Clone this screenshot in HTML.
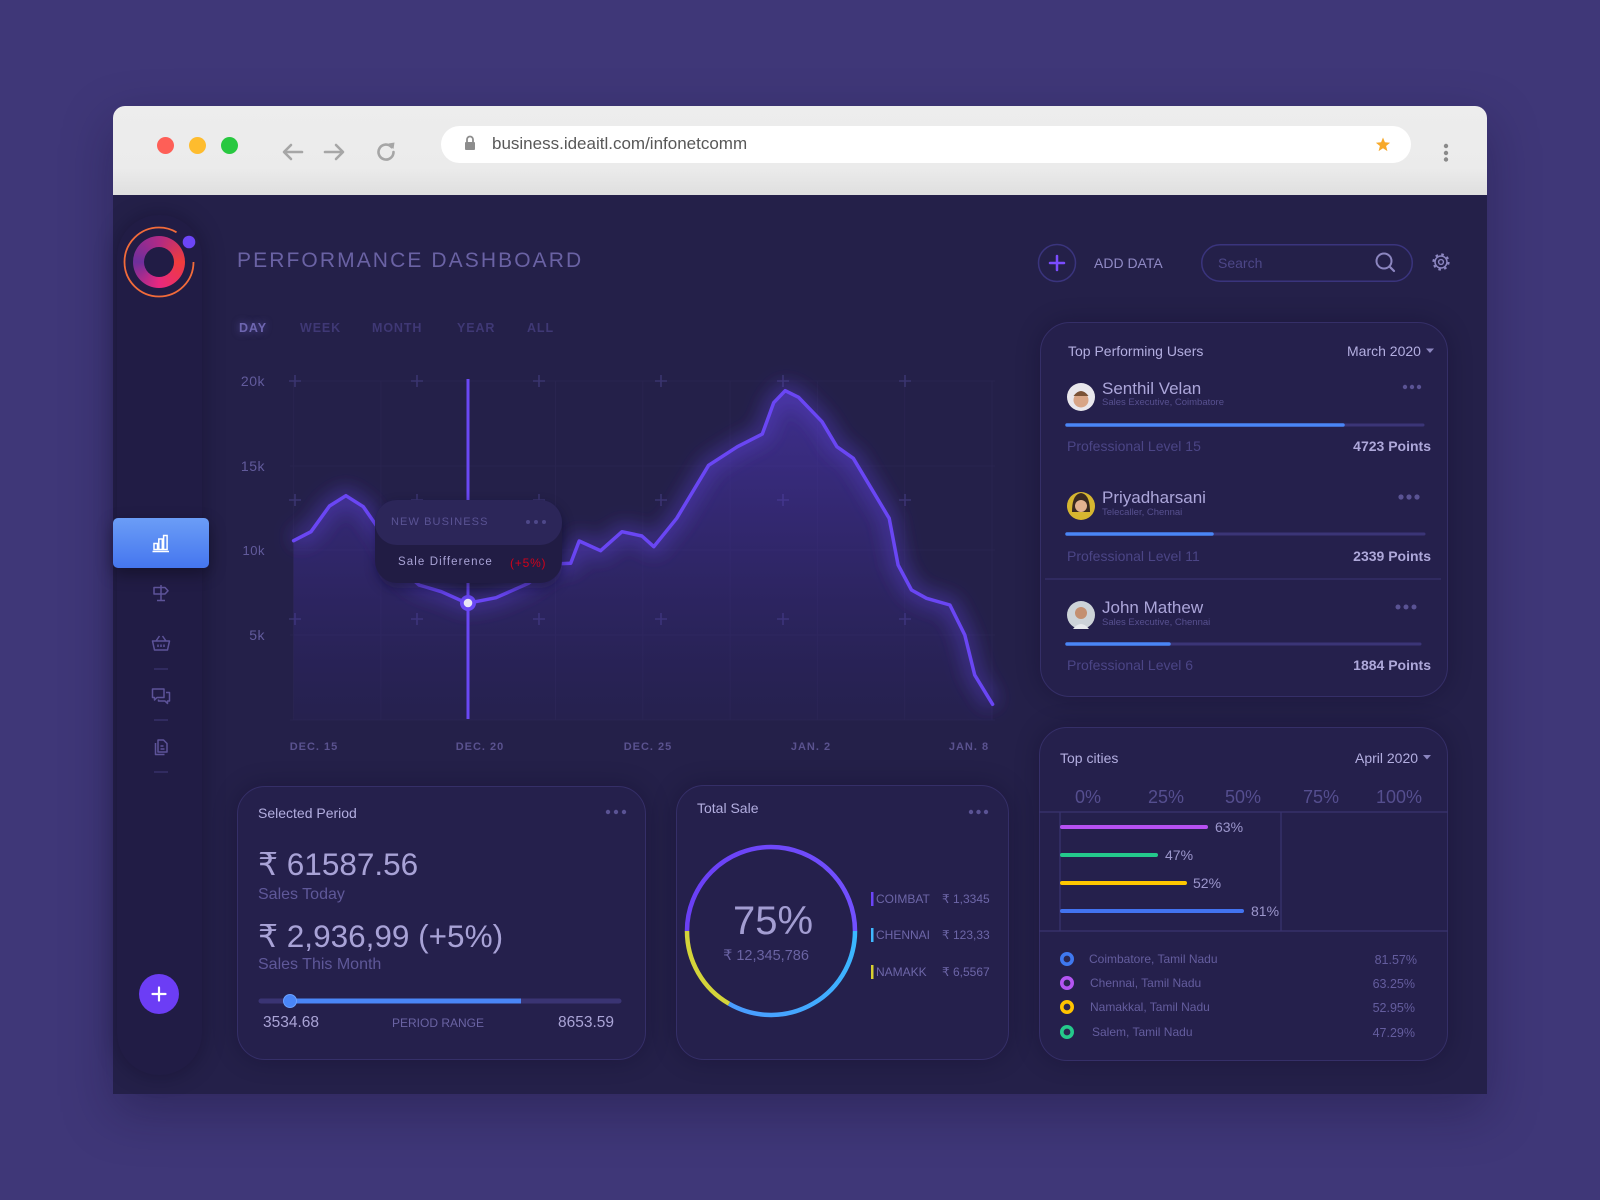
<!DOCTYPE html>
<html><head><meta charset="utf-8">
<style>
html,body{margin:0;padding:0;}
body{width:1600px;height:1200px;background:#3f3778;position:relative;overflow:hidden;font-family:"Liberation Sans","DejaVu Sans",sans-serif;}
.a{position:absolute;}
.t{position:absolute;white-space:nowrap;line-height:1;font-family:"Liberation Sans","DejaVu Sans",sans-serif;}
.card{position:absolute;background:#25204c;border:1.5px solid #352f68;box-sizing:border-box;box-shadow:0 0 24px rgba(10,6,30,0.28);}
</style></head>
<body>
<!-- browser chrome -->
<div class="a" style="left:113px;top:106px;width:1374px;height:988px;border-radius:12px 12px 0 0;box-shadow:0 18px 50px rgba(20,14,50,0.35);"></div>
<div class="a" style="left:113px;top:106px;width:1374px;height:89px;border-radius:12px 12px 0 0;background:linear-gradient(#ededed 0%,#ebebeb 70%,#dfdfdf 100%);"></div>
<div class="a" style="left:113px;top:195px;width:1374px;height:899px;background:#242049;"></div>
<div class="a" style="left:441px;top:126px;width:970px;height:37px;border-radius:19px;background:#fff;"></div>
<div class="a" style="left:156.5px;top:136.5px;width:17.5px;height:17.5px;border-radius:50%;background:#fe5f57;"></div>
<div class="a" style="left:188.5px;top:136.5px;width:17.5px;height:17.5px;border-radius:50%;background:#febc2e;"></div>
<div class="a" style="left:220.5px;top:136.5px;width:17.5px;height:17.5px;border-radius:50%;background:#28c840;"></div>
<div class="t" style="left:492px;top:135px;font-size:17px;color:#585858;">business.ideaitl.com/infonetcomm</div>

<!-- sidebar -->
<div class="a" style="left:117px;top:215px;width:85px;height:860px;border-radius:42px;background:#211c45;box-shadow:0 0 22px rgba(8,5,25,0.35);"></div>
<div class="a" style="left:133px;top:236px;width:52px;height:52px;border-radius:50%;background:conic-gradient(from 0deg,#b02a86,#f03c3c 90deg,#e8287f 180deg,#6e2f9c 270deg,#b02a86 360deg);"></div>
<div class="a" style="left:144px;top:247px;width:30px;height:30px;border-radius:50%;background:#211c45;"></div>
<div class="a" style="left:113px;top:518px;width:96px;height:50px;border-radius:5px;background:linear-gradient(#6b9df6,#4576ef);box-shadow:0 6px 16px rgba(0,0,0,0.35);"></div>

<!-- cards -->
<div class="card" style="left:1040px;top:322px;width:408px;height:375px;border-radius:30px;"></div>
<div class="card" style="left:1039px;top:727px;width:409px;height:334px;border-radius:28px;"></div>
<div class="card" style="left:237px;top:786px;width:409px;height:274px;border-radius:28px;"></div>
<div class="card" style="left:676px;top:785px;width:333px;height:275px;border-radius:28px;"></div>

<svg class="a" style="left:0;top:0;" width="1600" height="1200" viewBox="0 0 1600 1200">
<defs>
<linearGradient id="area" x1="0" y1="390" x2="0" y2="720" gradientUnits="userSpaceOnUse">
<stop offset="0" stop-color="#5b3fd6" stop-opacity="0.5"/>
<stop offset="0.55" stop-color="#4a34b0" stop-opacity="0.28"/>
<stop offset="1" stop-color="#3a2c90" stop-opacity="0.08"/>
</linearGradient>
<filter id="blur" x="-20%" y="-20%" width="140%" height="140%"><feGaussianBlur stdDeviation="9"/></filter>
<filter id="sh" x="-30%" y="-30%" width="160%" height="160%"><feGaussianBlur stdDeviation="6"/></filter>
<linearGradient id="pur" x1="687" y1="0" x2="855" y2="0" gradientUnits="userSpaceOnUse"><stop offset="0" stop-color="#6a3ff5"/><stop offset="1" stop-color="#7250ff"/></linearGradient>
<linearGradient id="blu" x1="855" y1="931" x2="729" y2="1004" gradientUnits="userSpaceOnUse"><stop offset="0" stop-color="#3ab8ff"/><stop offset="1" stop-color="#4a9cff"/></linearGradient>
</defs>
<!-- chrome icons -->
<g stroke="#a6a6a6" stroke-width="2.6" fill="none" stroke-linecap="round" stroke-linejoin="round">
<path d="M302 152 H285 M291 145 L284 152 L291 159"/>
<path d="M325 152 H342 M336 145 L343 152 L336 159"/>
<path d="M391.7 147.2 A7.5 7.5 0 1 0 393.5 152"/>
</g>
<polygon points="388.5,143.5 394.5,142.5 393.5,149" fill="#a6a6a6"/>
<rect x="465" y="142" width="10" height="8" rx="1" fill="#8d8d8d"/>
<path d="M467 142 V139.5 A3 3 0 0 1 473 139.5 V142" stroke="#8d8d8d" stroke-width="1.8" fill="none"/>
<polygon points="1383,137.5 1384.9,142.3 1390.1,142.7 1386.1,146 1387.4,151.1 1383,148.3 1378.6,151.1 1379.9,146 1375.9,142.7 1381.1,142.3" fill="#f7a92a"/>
<circle cx="1446" cy="146" r="2.2" fill="#8a8a8a"/><circle cx="1446" cy="153" r="2.2" fill="#8a8a8a"/><circle cx="1446" cy="159.5" r="2.2" fill="#8a8a8a"/>

<!-- logo -->
<circle cx="159" cy="262" r="34.5" fill="none" stroke="#f26b3a" stroke-width="1.8" stroke-dasharray="180.7 36.1"/>
<circle cx="189" cy="242" r="6.3" fill="#6d45f7"/>

<!-- nav icons -->
<g stroke="#ffffff" stroke-width="1.5" fill="none">
<rect x="154" y="543.5" width="3.5" height="6"/><rect x="158.8" y="539" width="3.5" height="10.5"/><rect x="163.6" y="535.5" width="3.5" height="14"/>
<line x1="152.5" y1="551.5" x2="169" y2="551.5"/>
</g>
<g stroke="#5d5399" stroke-width="1.5" fill="none" stroke-linejoin="round">
<path d="M161 585 V600 M157 600.5 H165 M154 587.5 H165 L168 590.8 L165 594 H154 Z"/>
<path d="M156 641 L159.5 636 M166 641 L162.5 636 M152.5 641 H169.5 L167.5 650 H154.5 Z M158 644.5 V647 M161 644.5 V647 M164 644.5 V647"/>
<path d="M152.5 689 H164 V697.5 H157 L154.5 700 V697.5 H152.5 Z M166 692.5 H169.5 V701 H167.5 V703.5 L165 701 H158.5 V699.5"/>
<path d="M158 740 H163.5 L167 743.5 V752 H158 Z M155.5 743 V754.5 H164.5 M160.5 746 H163.5 M160.5 749 H164.5"/>
</g>
<g stroke="#3a3470" stroke-width="1.3">
<line x1="154" y1="669" x2="168" y2="669"/><line x1="154" y1="720" x2="168" y2="720"/><line x1="154" y1="772" x2="168" y2="772"/>
</g>
<circle cx="159" cy="994" r="20" fill="#6c3df5"/>
<path d="M152.5 994 H165.5 M159 987.5 V1000.5" stroke="#fff" stroke-width="2.2" stroke-linecap="round"/>

<!-- header icons -->
<circle cx="1057" cy="263" r="18.5" fill="none" stroke="#3a347d" stroke-width="1.5"/>
<path d="M1050 263 H1064 M1057 256 V270" stroke="#7b4cff" stroke-width="2.5" stroke-linecap="round"/>
<rect x="1201.75" y="244.75" width="210.5" height="36.5" rx="18.25" fill="none" stroke="#3a347d" stroke-width="1.5"/>
<circle cx="1384" cy="261" r="7.5" fill="none" stroke="#8c86c0" stroke-width="2"/>
<line x1="1389.5" y1="266.5" x2="1394" y2="271" stroke="#8c86c0" stroke-width="2.2" stroke-linecap="round"/>
<circle cx="1441" cy="262" r="6" fill="none" stroke="#8c86c0" stroke-width="1.5"/>
<circle cx="1441" cy="262" r="7.6" fill="none" stroke="#8c86c0" stroke-width="2" stroke-dasharray="2.6 3.37"/>
<circle cx="1441" cy="262" r="2.4" fill="none" stroke="#8c86c0" stroke-width="1.4"/>

<!-- chart grid -->
<g stroke="#29244f" stroke-width="1">
<line x1="290" y1="381" x2="995" y2="381"/><line x1="290" y1="466" x2="995" y2="466"/><line x1="290" y1="550" x2="995" y2="550"/><line x1="290" y1="635" x2="995" y2="635"/><line x1="290" y1="720" x2="995" y2="720"/>
<line x1="293.6" y1="381" x2="293.6" y2="720"/><line x1="380.9" y1="381" x2="380.9" y2="720"/><line x1="468.2" y1="381" x2="468.2" y2="720"/><line x1="555.5" y1="381" x2="555.5" y2="720"/><line x1="642.8" y1="381" x2="642.8" y2="720"/><line x1="730.1" y1="381" x2="730.1" y2="720"/><line x1="817.4" y1="381" x2="817.4" y2="720"/><line x1="904.7" y1="381" x2="904.7" y2="720"/><line x1="992" y1="381" x2="992" y2="720"/>
</g>
<g stroke="#3a346f" stroke-width="1.6">
<path d="M289 381h12M295 375v12 M411 381h12M417 375v12 M533 381h12M539 375v12 M655 381h12M661 375v12 M777 381h12M783 375v12 M899 381h12M905 375v12"/>
<path d="M289 500h12M295 494v12 M411 500h12M417 494v12 M533 500h12M539 494v12 M655 500h12M661 494v12 M777 500h12M783 494v12 M899 500h12M905 494v12"/>
<path d="M289 619h12M295 613v12 M411 619h12M417 613v12 M533 619h12M539 613v12 M655 619h12M661 613v12 M777 619h12M783 613v12 M899 619h12M905 613v12"/>
</g>
<!-- chart series -->
<polygon fill="url(#area)" points="293.6,540.7 311,531.7 329.5,506 345.9,495.7 363.3,506.7 385,538 402,570 419,585 441.4,591.7 467.3,603.3 496,597.7 528.5,583.3 553,564 570.7,563.3 579.2,541 600.6,550.7 622,531.7 641.9,536 653.8,546.7 676.7,518.3 708.6,465.3 737.4,446.7 762.3,434 773.7,402.7 785.2,390.7 798.6,397.3 822,421.7 836.9,446.7 853.3,458.3 889.2,518.3 898.1,565 911.5,590 926.5,598.3 949.9,605 964.8,635 974.7,675 992.6,704.3 992.6,720 293.6,720"/>
<polyline filter="url(#blur)" fill="none" stroke="#5a3fd0" stroke-opacity="0.45" stroke-width="16" stroke-linejoin="round" points="293.6,540.7 311,531.7 329.5,506 345.9,495.7 363.3,506.7 385,538 402,570 419,585 441.4,591.7 467.3,603.3 496,597.7 528.5,583.3 553,564 570.7,563.3 579.2,541 600.6,550.7 622,531.7 641.9,536 653.8,546.7 676.7,518.3 708.6,465.3 737.4,446.7 762.3,434 773.7,402.7 785.2,390.7 798.6,397.3 822,421.7 836.9,446.7 853.3,458.3 889.2,518.3 898.1,565 911.5,590 926.5,598.3 949.9,605 964.8,635 974.7,675 992.6,704.3"/>
<line x1="468" y1="379" x2="468" y2="719" stroke="#6a48f5" stroke-width="3"/>
<polyline fill="none" stroke="#6a46f4" stroke-width="3.5" stroke-linejoin="round" stroke-linecap="round" points="293.6,540.7 311,531.7 329.5,506 345.9,495.7 363.3,506.7 385,538 402,570 419,585 441.4,591.7 467.3,603.3 496,597.7 528.5,583.3 553,564 570.7,563.3 579.2,541 600.6,550.7 622,531.7 641.9,536 653.8,546.7 676.7,518.3 708.6,465.3 737.4,446.7 762.3,434 773.7,402.7 785.2,390.7 798.6,397.3 822,421.7 836.9,446.7 853.3,458.3 889.2,518.3 898.1,565 911.5,590 926.5,598.3 949.9,605 964.8,635 974.7,675 992.6,704.3"/>
<circle cx="468" cy="603" r="8" fill="#6a48f5"/>
<circle cx="468" cy="603" r="4.3" fill="#e8e6f5"/>
<!-- tooltip -->
<rect x="377" y="505" width="185" height="83" rx="22" fill="#100c28" opacity="0.5" filter="url(#sh)"/>
<rect x="375" y="500" width="187" height="83" rx="22" fill="#211c44"/>
<rect x="375" y="500" width="187" height="45" rx="22" fill="#2c2659"/>
<circle cx="528" cy="522" r="2" fill="#4e4889"/><circle cx="536" cy="522" r="2" fill="#4e4889"/><circle cx="544" cy="522" r="2" fill="#4e4889"/>

<!-- user card -->
<circle cx="1081" cy="397" r="14" fill="#e9e7ec"/><circle cx="1081" cy="400" r="7.5" fill="#d8a586"/><path d="M1073.5 396 Q1081 386 1088.5 396 Z" fill="#7a5236"/>
<circle cx="1081" cy="506" r="14" fill="#d6b630"/><path d="M1072 512 Q1072 494 1081 493 Q1090 494 1090 512 Z" fill="#3a2a20"/><circle cx="1081" cy="506" r="6" fill="#e2b290"/>
<circle cx="1081" cy="615" r="14" fill="#cdd3d8"/><circle cx="1081" cy="613" r="6" fill="#c48f70"/><path d="M1073 629 Q1081 619 1089 629 Z" fill="#e8eaed"/>
<circle cx="1405" cy="387" r="2.2" fill="#5a5394"/><circle cx="1412" cy="387" r="2.2" fill="#5a5394"/><circle cx="1419" cy="387" r="2.2" fill="#5a5394"/>
<circle cx="1401" cy="497" r="2.6" fill="#5a5394"/><circle cx="1409" cy="497" r="2.6" fill="#5a5394"/><circle cx="1417" cy="497" r="2.6" fill="#5a5394"/>
<circle cx="1398" cy="607" r="2.5" fill="#5a5394"/><circle cx="1406" cy="607" r="2.5" fill="#5a5394"/><circle cx="1414" cy="607" r="2.5" fill="#5a5394"/>
<g stroke-linecap="round">
<line x1="1067" y1="425" x2="1423" y2="425" stroke="#3b3577" stroke-width="3"/>
<line x1="1067" y1="425" x2="1343" y2="425" stroke="#4a86f7" stroke-width="3.5"/>
<line x1="1067" y1="534" x2="1424" y2="534" stroke="#3b3577" stroke-width="3"/>
<line x1="1067" y1="534" x2="1212" y2="534" stroke="#4a86f7" stroke-width="3.5"/>
<line x1="1067" y1="644" x2="1420" y2="644" stroke="#3b3577" stroke-width="3"/>
<line x1="1067" y1="644" x2="1169" y2="644" stroke="#4a86f7" stroke-width="3.5"/>
</g>
<line x1="1045" y1="579" x2="1441" y2="579" stroke="#37316c" stroke-width="1.2"/>
<polygon points="1426,348.5 1434,348.5 1430,353" fill="#8c86c0"/>

<!-- top cities -->
<polygon points="1423,755 1431,755 1427,759.5" fill="#8c86c0"/>
<g stroke="#3a3470" stroke-width="1.2">
<line x1="1039" y1="812" x2="1448" y2="812"/><line x1="1039" y1="931" x2="1448" y2="931"/>
<line x1="1060" y1="812" x2="1060" y2="931"/><line x1="1281" y1="812" x2="1281" y2="931"/>
</g>
<g stroke-width="4" stroke-linecap="round">
<line x1="1062" y1="827" x2="1206" y2="827" stroke="#b650f2"/>
<line x1="1062" y1="855" x2="1156" y2="855" stroke="#24c98c"/>
<line x1="1062" y1="883" x2="1185" y2="883" stroke="#ffc700"/>
<line x1="1062" y1="911" x2="1242" y2="911" stroke="#4273f0"/>
</g>
<g stroke-width="3.6" fill="#2a2550">
<circle cx="1067" cy="959" r="5.2" stroke="#3f78f0"/>
<circle cx="1067" cy="983" r="5.2" stroke="#b455f2"/>
<circle cx="1067" cy="1007" r="5.2" stroke="#ffc400"/>
<circle cx="1067" cy="1032" r="5.2" stroke="#25c98b"/>
</g>

<!-- selected period -->
<circle cx="608" cy="812" r="2.2" fill="#5a5394"/><circle cx="616" cy="812" r="2.2" fill="#5a5394"/><circle cx="624" cy="812" r="2.2" fill="#5a5394"/>
<line x1="261" y1="1001" x2="619" y2="1001" stroke="#3a3473" stroke-width="5" stroke-linecap="round"/>
<line x1="290" y1="1001" x2="521" y2="1001" stroke="#4a86f7" stroke-width="5"/>
<circle cx="290" cy="1001" r="6.5" fill="#4a86f7" stroke="#6aa0ff" stroke-width="1"/>

<!-- total sale -->
<circle cx="971" cy="812" r="2.2" fill="#5a5394"/><circle cx="978.5" cy="812" r="2.2" fill="#5a5394"/><circle cx="986" cy="812" r="2.2" fill="#5a5394"/>
<g fill="none" stroke-width="4.5">
<path d="M687 931 A84 84 0 0 1 855 931" stroke="url(#pur)"/>
<path d="M855 931 A84 84 0 0 1 729 1003.7" stroke="url(#blu)"/>
<path d="M729 1003.7 A84 84 0 0 1 687 931" stroke="#d4d43a"/>
</g>
<rect x="871" y="892" width="2.5" height="14" fill="#6b45f7"/>
<rect x="871" y="928" width="2.5" height="14" fill="#40b8ff"/>
<rect x="871" y="965" width="2.5" height="14" fill="#d8d030"/>
</svg>

<!-- header text -->
<div class="t" style="left:237px;top:249.5px;font-size:21px;letter-spacing:2.1px;color:#6a62a4;">PERFORMANCE DASHBOARD</div>
<div class="t" style="left:239px;top:322px;font-size:12.5px;font-weight:bold;letter-spacing:0.9px;color:#6e66b0;text-shadow:0 0 8px rgba(120,110,210,0.6);">DAY</div>
<div class="t" style="left:300px;top:322px;font-size:12.5px;font-weight:bold;letter-spacing:0.9px;color:#3f3875;">WEEK</div>
<div class="t" style="left:372px;top:322px;font-size:12.5px;font-weight:bold;letter-spacing:0.9px;color:#3f3875;">MONTH</div>
<div class="t" style="left:457px;top:322px;font-size:12.5px;font-weight:bold;letter-spacing:0.9px;color:#3f3875;">YEAR</div>
<div class="t" style="left:527px;top:322px;font-size:12.5px;font-weight:bold;letter-spacing:0.9px;color:#3f3875;">ALL</div>
<div class="t" style="left:1094px;top:256px;font-size:14px;color:#8f89c4;">ADD DATA</div>
<div class="t" style="left:1218px;top:256px;font-size:14px;color:#4d4788;">Search</div>

<!-- axis labels -->
<div class="t" style="left:205px;width:60px;text-align:right;top:374px;font-size:14px;color:#625b9c;letter-spacing:0.5px;">20k</div>
<div class="t" style="left:205px;width:60px;text-align:right;top:459px;font-size:14px;color:#625b9c;letter-spacing:0.5px;">15k</div>
<div class="t" style="left:205px;width:60px;text-align:right;top:543.5px;font-size:13px;color:#625b9c;letter-spacing:0.5px;">10k</div>
<div class="t" style="left:205px;width:60px;text-align:right;top:628px;font-size:14px;color:#625b9c;letter-spacing:0.5px;">5k</div>
<div class="t" style="left:264px;width:100px;text-align:center;top:741.5px;font-size:11px;font-weight:bold;letter-spacing:1px;color:#5a528f;">DEC. 15</div>
<div class="t" style="left:430px;width:100px;text-align:center;top:741.5px;font-size:11px;font-weight:bold;letter-spacing:1px;color:#5a528f;">DEC. 20</div>
<div class="t" style="left:598px;width:100px;text-align:center;top:741.5px;font-size:11px;font-weight:bold;letter-spacing:1px;color:#5a528f;">DEC. 25</div>
<div class="t" style="left:761px;width:100px;text-align:center;top:741.5px;font-size:11px;font-weight:bold;letter-spacing:1px;color:#5a528f;">JAN. 2</div>
<div class="t" style="left:919px;width:100px;text-align:center;top:741.5px;font-size:11px;font-weight:bold;letter-spacing:1px;color:#5a528f;">JAN. 8</div>

<!-- tooltip text -->
<div class="t" style="left:391px;top:516.5px;font-size:11px;letter-spacing:1.1px;color:#5a5394;">NEW BUSINESS</div>
<div class="t" style="left:398px;top:557px;font-size:11.5px;letter-spacing:1.1px;color:#a9a3d6;">Sale Difference</div>
<div class="t" style="left:510px;top:557px;font-size:12px;letter-spacing:0.8px;color:#d0021b;">(+5%)</div>

<!-- top performing users -->
<div class="t" style="left:1068px;top:344px;font-size:14px;color:#b3aee0;">Top Performing Users</div>
<div class="t" style="left:1347px;top:344px;font-size:14px;color:#b3aee0;">March 2020</div>
<div class="t" style="left:1102px;top:379.5px;font-size:17px;color:#aca6da;">Senthil Velan</div>
<div class="t" style="left:1102px;top:398px;font-size:9.5px;color:#57508f;">Sales Executive, Coimbatore</div>
<div class="t" style="left:1067px;top:439px;font-size:14px;color:#4b4586;">Professional Level 15</div>
<div class="t" style="right:169px;top:439px;font-size:14px;font-weight:bold;color:#aea8da;">4723 Points</div>
<div class="t" style="left:1102px;top:488.5px;font-size:17px;color:#aca6da;">Priyadharsani</div>
<div class="t" style="left:1102px;top:508px;font-size:9.5px;color:#57508f;">Telecaller, Chennai</div>
<div class="t" style="left:1067px;top:549px;font-size:14px;color:#4b4586;">Professional Level 11</div>
<div class="t" style="right:169px;top:549px;font-size:14px;font-weight:bold;color:#aea8da;">2339 Points</div>
<div class="t" style="left:1102px;top:598.5px;font-size:17px;color:#aca6da;">John Mathew</div>
<div class="t" style="left:1102px;top:618px;font-size:9.5px;color:#57508f;">Sales Executive, Chennai</div>
<div class="t" style="left:1067px;top:658px;font-size:14px;color:#4b4586;">Professional Level 6</div>
<div class="t" style="right:169px;top:658px;font-size:14px;font-weight:bold;color:#aea8da;">1884 Points</div>

<!-- top cities -->
<div class="t" style="left:1060px;top:751px;font-size:14px;color:#b3aee0;">Top cities</div>
<div class="t" style="left:1355px;top:751px;font-size:14px;color:#b3aee0;">April 2020</div>
<div class="t" style="left:1048px;width:80px;text-align:center;top:788px;font-size:18px;color:#554e8f;">0%</div>
<div class="t" style="left:1126px;width:80px;text-align:center;top:788px;font-size:18px;color:#554e8f;">25%</div>
<div class="t" style="left:1203px;width:80px;text-align:center;top:788px;font-size:18px;color:#554e8f;">50%</div>
<div class="t" style="left:1281px;width:80px;text-align:center;top:788px;font-size:18px;color:#554e8f;">75%</div>
<div class="t" style="left:1359px;width:80px;text-align:center;top:788px;font-size:18px;color:#554e8f;">100%</div>
<div class="t" style="left:1215px;top:820px;font-size:14px;color:#9c96cc;">63%</div>
<div class="t" style="left:1165px;top:848px;font-size:14px;color:#9c96cc;">47%</div>
<div class="t" style="left:1193px;top:876px;font-size:14px;color:#9c96cc;">52%</div>
<div class="t" style="left:1251px;top:904px;font-size:14px;color:#9c96cc;">81%</div>
<div class="t" style="left:1089px;top:953px;font-size:12px;color:#645d9e;">Coimbatore, Tamil Nadu</div>
<div class="t" style="left:1090px;top:977px;font-size:12px;color:#645d9e;">Chennai, Tamil Nadu</div>
<div class="t" style="left:1090px;top:1001px;font-size:12px;color:#645d9e;">Namakkal, Tamil Nadu</div>
<div class="t" style="left:1092px;top:1026px;font-size:12px;color:#645d9e;">Salem, Tamil Nadu</div>
<div class="t" style="right:183px;top:954px;font-size:12.5px;color:#645d9e;">81.57%</div>
<div class="t" style="right:185px;top:978px;font-size:12.5px;color:#645d9e;">63.25%</div>
<div class="t" style="right:185px;top:1002px;font-size:12.5px;color:#645d9e;">52.95%</div>
<div class="t" style="right:185px;top:1027px;font-size:12.5px;color:#645d9e;">47.29%</div>

<!-- selected period -->
<div class="t" style="left:258px;top:806px;font-size:14px;color:#b3aee0;">Selected Period</div>
<div class="t" style="left:258px;top:849px;font-size:31.5px;color:#a8a2d6;">₹ 61587.56</div>
<div class="t" style="left:258px;top:887px;font-size:16px;color:#5f5899;">Sales Today</div>
<div class="t" style="left:258px;top:921px;font-size:31.5px;color:#a8a2d6;">₹ 2,936,99 (+5%)</div>
<div class="t" style="left:258px;top:957px;font-size:16px;color:#5f5899;">Sales This Month</div>
<div class="t" style="left:263px;top:1015px;font-size:15.5px;color:#aaa4d6;">3534.68</div>
<div class="t" style="left:392px;top:1017px;font-size:12px;color:#6a63a3;">PERIOD RANGE</div>
<div class="t" style="right:986px;top:1015px;font-size:15.5px;color:#aaa4d6;">8653.59</div>

<!-- total sale -->
<div class="t" style="left:697px;top:801px;font-size:14px;color:#b3aee0;">Total Sale</div>
<div class="t" style="left:673px;width:200px;text-align:center;top:901px;font-size:40px;color:#a39dd2;">75%</div>
<div class="t" style="left:666px;width:200px;text-align:center;top:949px;font-size:14.5px;color:#6a63a3;">₹ 12,345,786</div>
<div class="t" style="left:876px;top:893px;font-size:12px;color:#6d66a8;">COIMBAT</div>
<div class="t" style="left:876px;top:929px;font-size:12px;color:#6d66a8;">CHENNAI</div>
<div class="t" style="left:876px;top:966px;font-size:12px;color:#6d66a8;">NAMAKK</div>
<div class="t" style="left:942px;top:893px;font-size:12px;color:#6d66a8;">₹ 1,3345</div>
<div class="t" style="left:942px;top:929px;font-size:12px;color:#6d66a8;">₹ 123,33</div>
<div class="t" style="left:942px;top:966px;font-size:12px;color:#6d66a8;">₹ 6,5567</div>
</body></html>
